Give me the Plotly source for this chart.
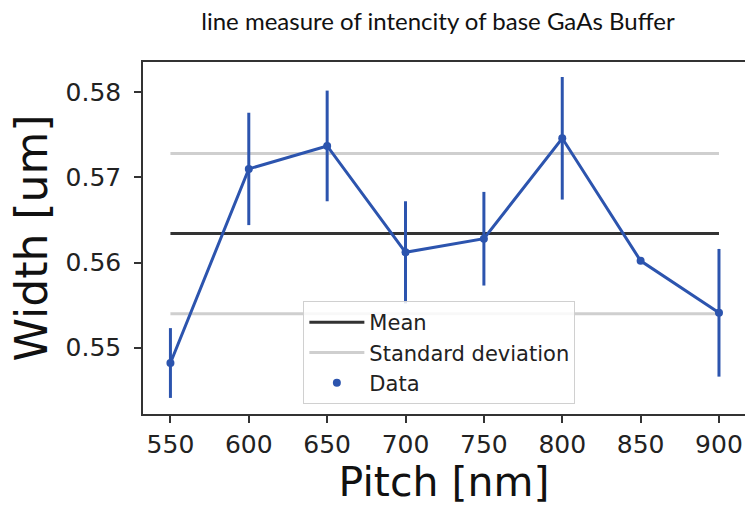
import plotly.graph_objects as go

pitch = [550, 600, 650, 700, 750, 800, 850, 900]
width = [0.5482, 0.5710, 0.5737, 0.5612, 0.5628, 0.5746, 0.5602, 0.5541]
err = [0.0041, 0.0066, 0.0065, 0.0060, 0.0055, 0.0072, 0.0, 0.0075]
mean_val = 0.5634
std_val = 0.0094

blue = "#2c54ae"
fig = go.Figure()

fig.add_trace(go.Scatter(
    x=[pitch[0], pitch[-1]], y=[mean_val, mean_val], mode="lines",
    line=dict(color="#333333", width=3), name="Mean"))
fig.add_trace(go.Scatter(
    x=[pitch[0], pitch[-1], None, pitch[0], pitch[-1]],
    y=[mean_val + std_val, mean_val + std_val, None, mean_val - std_val, mean_val - std_val],
    mode="lines", line=dict(color="#cfcfcf", width=3), name="Standard deviation"))
fig.add_trace(go.Scatter(
    x=pitch, y=width, mode="lines", line=dict(color=blue, width=3),
    error_y=dict(type="data", array=err, visible=True, color=blue, thickness=3, width=0),
    showlegend=False))
fig.add_trace(go.Scatter(
    x=pitch, y=width, mode="markers", marker=dict(color=blue, size=8), name="Data"))

fig.update_layout(
    width=745, height=506,
    margin=dict(l=142.5, r=0, t=62, b=92),
    paper_bgcolor="white", plot_bgcolor="white",
    font=dict(family="DejaVu Sans", color="#222222"),
    title=dict(text="line measure of intencity of base GaAs Buffer",
               font=dict(family="Lato", size=24, color="#111111"),
               x=438/745, xanchor="center", y=1-22/506, yanchor="middle"),
    showlegend=True,
    legend=dict(x=(303-142.5)/602.5, y=(414-301)/352, xanchor="left", yanchor="top",
                bordercolor="#d0d0d0", borderwidth=1, bgcolor="rgba(255,255,255,0.85)",
                font=dict(size=21, color="#222222"), itemwidth=55, tracegroupgap=0),
    xaxis=dict(range=[532.5, 532.5 + 602.5 / 1.5686], tickvals=pitch,
               ticks="outside", ticklen=7, tickwidth=1.5, tickcolor="#333333",
               showline=True, linecolor="#333333", linewidth=1.5, mirror=True,
               showgrid=False, zeroline=False, ticklabelstandoff=0,
               tickfont=dict(size=25, color="#222222"),
               title=dict(text="Pitch [nm]", font=dict(size=41, color="#111111"), standoff=10)),
    yaxis=dict(range=[0.54221, 0.58356], tickvals=[0.55, 0.56, 0.57, 0.58],
               ticktext=["0.55", "0.56", "0.57", "0.58"],
               ticks="outside", ticklen=7, tickwidth=1.5, tickcolor="#333333",
               showline=True, linecolor="#333333", linewidth=1.5, mirror=False,
               showgrid=False, zeroline=False, ticklabelstandoff=8,
               tickfont=dict(size=25, color="#222222"),
               title=dict(text="Width [um]", font=dict(size=44, color="#111111"), standoff=4)),
)

fig.write_html("out.html")
